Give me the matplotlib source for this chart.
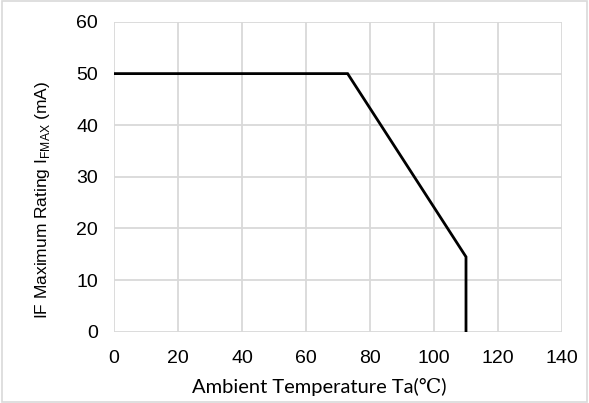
import matplotlib
matplotlib.use("Agg")
import matplotlib.pyplot as plt
from matplotlib.patches import Rectangle

plt.rcParams['font.family'] = ['Liberation Sans', 'DejaVu Sans']
plt.rcParams['mathtext.fontset'] = 'custom'
plt.rcParams['mathtext.rm'] = 'Liberation Sans'

temp = [0, 73, 110, 110]
current = [50, 50, 14.5, 0]
xticks = [0, 20, 40, 60, 80, 100, 120, 140]
yticks = [0, 10, 20, 30, 40, 50, 60]

fig = plt.figure(figsize=(5.89, 4.03), dpi=100)
ax = fig.add_axes([114/589, 1-331.7/403, (562-114)/589, (331.7-22)/403])
ax.plot(temp, current, color='black', linewidth=2.0, solid_joinstyle='miter', zorder=3)
ax.set_xlim(0, 140)
ax.set_ylim(0, 60)
ax.set_xticks(xticks)
ax.set_yticks(yticks)
ax.grid(True, color='#d9d9d9', linewidth=1.3)
ax.set_axisbelow(True)
for s in ax.spines.values():
    s.set_visible(False)
ax.tick_params(length=0, labelsize=14, colors='black')
ax.tick_params(axis='y', pad=11.5)
ax.tick_params(axis='x', pad=13.5)
ax.set_xlabel('Ambient Temperature Ta(℃)', fontsize=14.5, va='center',
              family=['Lato', 'DejaVu Serif'])
ax.xaxis.set_label_coords((319-114)/448, (331.7-387)/309.7)
ax.set_ylabel(r'IF Maximum Rating I$_{\mathregular{FMAX}}$ (mA)', fontsize=12.5, va='center')
ax.yaxis.set_label_coords((42-114)/448, (331.7-200)/309.7)
fig.patches.append(Rectangle((0.003, 0.003), 0.994, 0.994, transform=fig.transFigure,
                             fill=False, edgecolor='#d9d9d9', linewidth=1.2))
fig.savefig('out.png', dpi=100)
